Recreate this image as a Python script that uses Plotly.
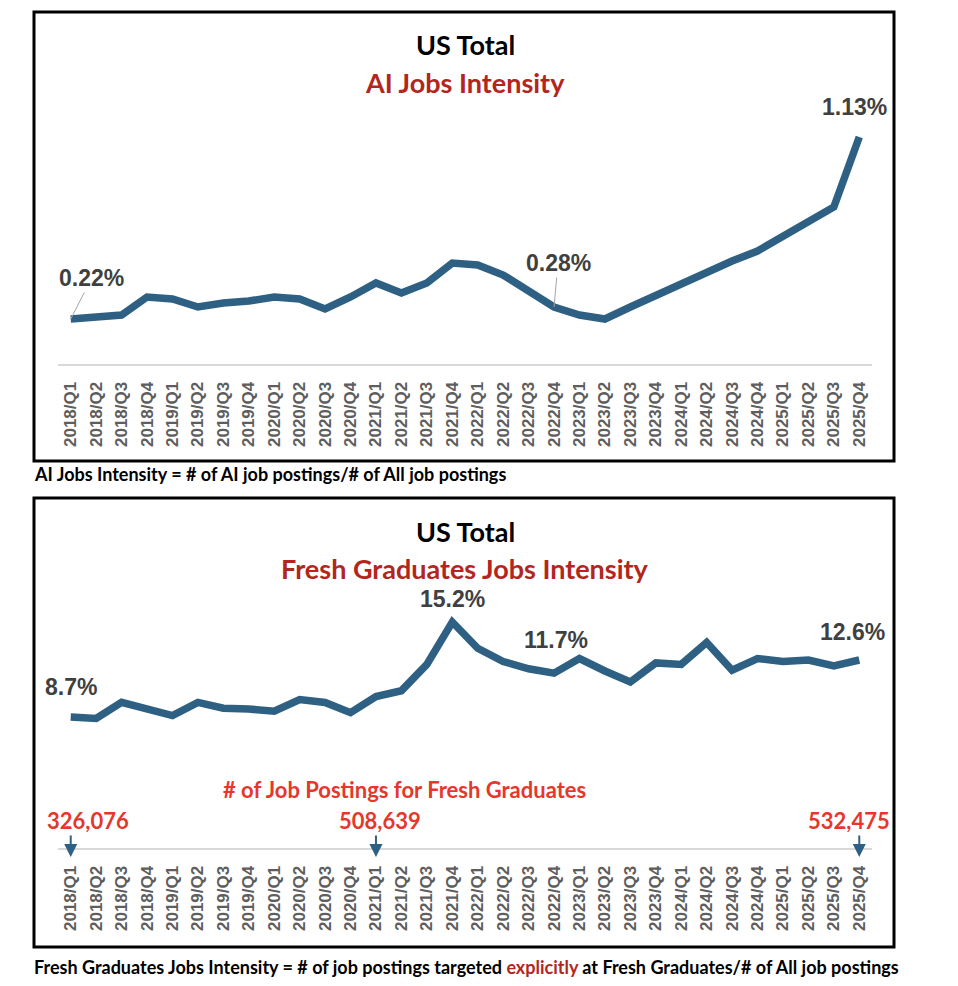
import plotly.graph_objects as go

W, H = 958, 986
OFF = 8  # browser body margin

quarters = [f"{y}/Q{q}" for y in range(2018, 2026) for q in range(1, 5)]

ai_intensity = [0.22, 0.23, 0.24, 0.33, 0.32, 0.28, 0.30, 0.31,
                0.33, 0.32, 0.27, 0.33, 0.40, 0.35, 0.40, 0.50,
                0.49, 0.44, 0.36, 0.28, 0.24, 0.22, 0.28, 0.34,
                0.40, 0.46, 0.51, 0.56, 0.63, 0.70, 0.78, 1.13]

grad_intensity = [8.7, 8.6, 9.7, 9.2, 8.8, 9.7, 9.3, 9.25,
                  9.1, 9.9, 9.7, 9.0, 10.1, 10.5, 12.3, 15.2,
                  13.4, 12.5, 12.0, 11.7, 12.7, 11.85, 11.1, 12.4,
                  12.3, 13.8, 11.9, 12.7, 12.5, 12.6, 12.2, 12.6]

# labelled points
ai_labels = ["2018/Q1", "2022/Q4", "2025/Q4"]
grad_labels = ["2018/Q1", "2021/Q4", "2022/Q4", "2025/Q4"]

posting_quarters = ["2018/Q1", "2021/Q1", "2025/Q4"]
posting_counts = [326076, 508639, 532475]

LINE = "#2e6083"
DARK_RED = "#b3261e"
RED = "#e5372b"
LABEL = "#404040"
TITLE_FONT = "Lato"


def px(x):
    return (x - OFF) / W


def py(y):
    return 1 - (y - OFF) / H


fig = go.Figure()
fig.add_trace(go.Scatter(x=quarters, y=ai_intensity, mode="lines",
                         line=dict(color=LINE, width=7.5), xaxis="x", yaxis="y",
                         hoverinfo="x+y"))
fig.add_trace(go.Scatter(x=quarters, y=grad_intensity, mode="lines",
                         line=dict(color=LINE, width=7.5), xaxis="x2", yaxis="y2",
                         hoverinfo="x+y"))

xax = dict(type="category", categoryorder="array", categoryarray=quarters,
           range=[-0.5, 31.5], domain=[px(58), px(872)],
           showline=True, linecolor="#d9d9d9", linewidth=2,
           showgrid=False, zeroline=False, ticks="", tickangle=-90,
           ticklabelstandoff=9,
           tickfont=dict(family="Liberation Sans", size=17, color="#5e5e5e",
                         weight="bold"))
yax = dict(showticklabels=False, showgrid=False, zeroline=False, showline=False)

fig.update_layout(
    width=W, height=H, margin=dict(l=0, r=0, t=0, b=0),
    paper_bgcolor="white", plot_bgcolor="white", showlegend=False,
    xaxis=dict(xax, anchor="y"),
    yaxis=dict(yax, domain=[py(364), py(120)], range=[-0.005, 1.215]),
    xaxis2=dict(xax, anchor="y2"),
    yaxis2=dict(yax, domain=[py(848), py(590)], range=[-0.26, 17.39]),
)

ann = []
txt = dict(family="Liberation Sans", size=23, color=LABEL, weight="bold")

# top chart value labels
ai_offsets = {"2018/Q1": (21, -41), "2022/Q4": (4, -44)}
for q in ai_labels:
    v = ai_intensity[quarters.index(q)]
    if q in ai_offsets:
        ax, ay = ai_offsets[q]
        ann.append(dict(x=q, y=v, xref="x", yref="y", text=f"{v:.2f}%",
                        showarrow=True, arrowhead=0, arrowwidth=1,
                        arrowcolor="#a6a6a6", ax=ax, ay=ay, font=txt))
    else:
        ann.append(dict(x=q, y=v, xref="x", yref="y", text=f"{v:.2f}%",
                        showarrow=False, xshift=-5, yshift=30, font=txt))

# bottom chart value labels
grad_shifts = {"2018/Q1": (0, 30), "2021/Q4": (0, 23), "2022/Q4": (2, 33),
               "2025/Q4": (-7, 28)}
for q in grad_labels:
    v = grad_intensity[quarters.index(q)]
    xs, ys = grad_shifts[q]
    ann.append(dict(x=q, y=v, xref="x2", yref="y2", text=f"{v:.1f}%",
                    showarrow=False, xshift=xs, yshift=ys, font=txt))

# job postings arrows and counts
count_shift = [17, 4, -10]
for q, n, xs in zip(posting_quarters, posting_counts, count_shift):
    ann.append(dict(x=q, y=py(857), xref="x2", yref="paper", text="",
                    showarrow=True, arrowhead=2, arrowsize=1.3, arrowwidth=2,
                    arrowcolor=LINE, ax=0, ay=-23))
    ann.append(dict(x=q, y=py(820), xref="x2", yref="paper", text=f"{n:,}",
                    showarrow=False, xshift=xs, xanchor="center", yanchor="middle",
                    font=dict(family=TITLE_FONT, size=22, color=RED, weight="bold")))

ann.append(dict(x=px(404), y=py(789), xref="paper", yref="paper",
                xanchor="center", yanchor="middle",
                text="# of Job Postings for Fresh Graduates", showarrow=False,
                font=dict(family=TITLE_FONT, size=22, color=RED, weight="bold")))

# titles
for y_title, y_sub, sub in [(45, 82, "AI Jobs Intensity"),
                            (531, 568, "Fresh Graduates Jobs Intensity")]:
    ann.append(dict(x=px(465), y=py(y_title), xref="paper", yref="paper",
                    xanchor="center", yanchor="middle",
                    text="US Total", showarrow=False,
                    font=dict(family=TITLE_FONT, size=27, color="black", weight="bold")))
    ann.append(dict(x=px(465), y=py(y_sub), xref="paper", yref="paper",
                    xanchor="center", yanchor="middle",
                    text=sub, showarrow=False,
                    font=dict(family=TITLE_FONT, size=27, color=DARK_RED, weight="bold")))

# footnotes
foot = dict(family=TITLE_FONT, size=18, color="black", weight="bold")
ann.append(dict(x=px(32), y=py(474), xref="paper", yref="paper",
                xanchor="left", yanchor="middle",
                text="AI Jobs Intensity = # of AI job postings/# of All job postings",
                showarrow=False, font=foot))
ann.append(dict(x=px(32), y=py(967), xref="paper", yref="paper",
                xanchor="left", yanchor="middle",
                text="Fresh Graduates Jobs Intensity = # of job postings targeted "
                     f"<span style='color:{DARK_RED}'>explicitly</span> at Fresh "
                     "Graduates/# of All job postings",
                showarrow=False, font=foot))

fig.update_layout(annotations=ann)

# boxes
for top, bottom in [(12, 461), (498, 947)]:
    fig.add_shape(type="rect", xref="paper", yref="paper",
                  x0=px(34), x1=px(894), y0=py(bottom), y1=py(top),
                  line=dict(color="black", width=3))

fig.write_html("out.html")
